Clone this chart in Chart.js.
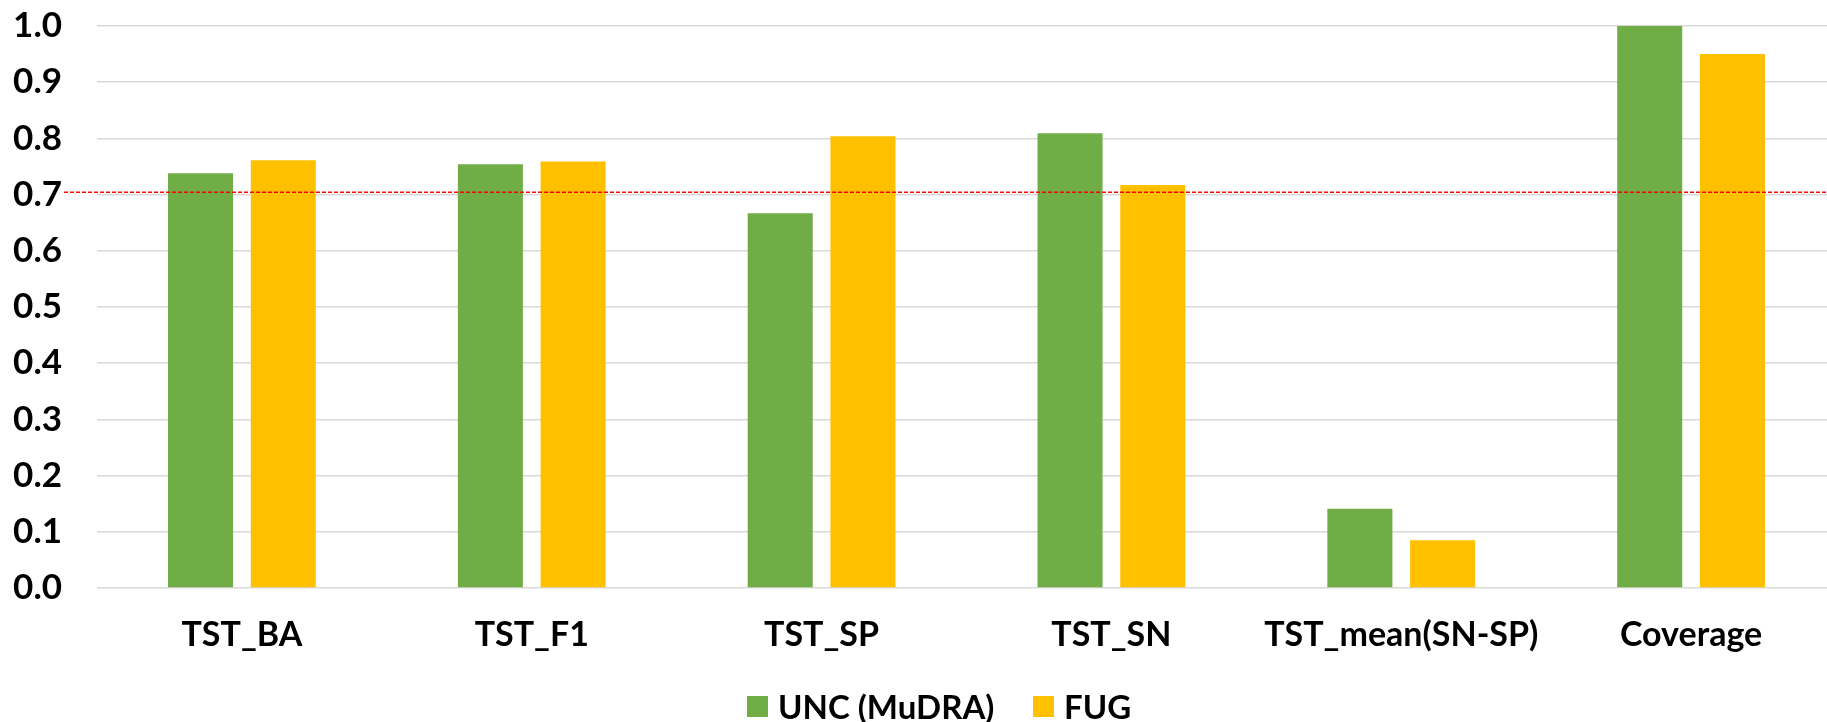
<!DOCTYPE html>
<html>
<head>
<meta charset="utf-8">
<script src="https://cdn.jsdelivr.net/npm/chart.js@4.4.1/dist/chart.umd.min.js"></script>
<style>
  html, body { margin: 0; padding: 0; background: #fff; overflow: hidden; }
  #wrap { position: relative; width: 1836px; height: 722px; }
  #legend { position: absolute; top: 0; left: 0; width: 100%; height: 100%; pointer-events: none; }
  .item { position: absolute; display: flex; align-items: center; font: bold 33px Lato, "Liberation Sans", sans-serif; color: #000; white-space: nowrap; }
  .swatch { width: 21px; height: 21px; margin-right: 10px; }
</style>
</head>
<body>
<div id="wrap">
  <canvas id="chart" width="1836" height="722"></canvas>
  <div id="legend"></div>
</div>
<script>
const categories = ['TST_BA', 'TST_F1', 'TST_SP', 'TST_SN', 'TST_mean(SN-SP)', 'Coverage'];
const uncValues = [0.738, 0.754, 0.667, 0.809, 0.141, 1.000];
const fugValues = [0.761, 0.759, 0.804, 0.717, 0.085, 0.950];
const seriesNames = ['UNC (MuDRA)', 'FUG'];
const seriesColors = ['#70AD47', '#FFC000'];
const yTicks = [0, 0.1, 0.2, 0.3, 0.4, 0.5, 0.6, 0.7, 0.8, 0.9, 1.0];
const threshold = 0.704;

const FONT = 'Lato, "Liberation Sans", sans-serif';

// dashed red reference line across the plot, a little past the left edge
const thresholdLine = {
  id: 'thresholdLine',
  afterDatasetsDraw(chart) {
    const y = chart.scales.y.getPixelForValue(threshold);
    const ctx = chart.ctx;
    ctx.save();
    ctx.strokeStyle = '#FF0000';
    ctx.lineWidth = 1.5;
    ctx.setLineDash([4, 2]);
    ctx.beginPath();
    ctx.moveTo(64, y);
    ctx.lineTo(chart.width, y);
    ctx.stroke();
    ctx.restore();
  }
};

const chart = new Chart(document.getElementById('chart'), {
  type: 'bar',
  data: {
    labels: categories,
    datasets: [
      { label: seriesNames[0], data: uncValues, backgroundColor: seriesColors[0] },
      { label: seriesNames[1], data: fugValues, backgroundColor: seriesColors[1] }
    ]
  },
  options: {
    responsive: false,
    animation: false,
    layout: { padding: 0 },
    categoryPercentage: 0.571,
    barPercentage: 0.786,
    plugins: { legend: { display: false }, tooltip: { enabled: false } },
    scales: {
      x: {
        grid: { display: false, drawTicks: false },
        border: { display: false },
        ticks: { color: '#000', font: { family: FONT, size: 34, weight: 'bold' }, padding: 27, maxRotation: 0, autoSkip: false },
        afterFit(scale) { scale.height = 134; }
      },
      y: {
        min: 0, max: 1,
        afterBuildTicks(scale) { scale.ticks = yTicks.map(v => ({ value: v })); },
        grid: { color: '#d9d9d9', lineWidth: 1.5, drawTicks: false },
        border: { display: false },
        ticks: { color: '#000', font: { family: FONT, size: 35, weight: 'bold', lineHeight: 1 }, padding: 35,
                 callback: v => v.toFixed(1) },
        afterFit(scale) {
          scale.width = 97;
          scale.paddingTop = 26;
          scale.paddingBottom = 0;
        }
      }
    }
  },
  plugins: [thresholdLine]
});

// legend entries placed below the category labels
const legend = document.getElementById('legend');
const legendX = [747, 1033];
seriesNames.forEach((name, i) => {
  const item = document.createElement('div');
  item.className = 'item';
  item.style.left = legendX[i] + 'px';
  item.style.top = '686px';
  const sw = document.createElement('span');
  sw.className = 'swatch';
  sw.style.background = seriesColors[i];
  item.appendChild(sw);
  item.appendChild(document.createTextNode(name));
  legend.appendChild(item);
});
</script>
</body>
</html>
